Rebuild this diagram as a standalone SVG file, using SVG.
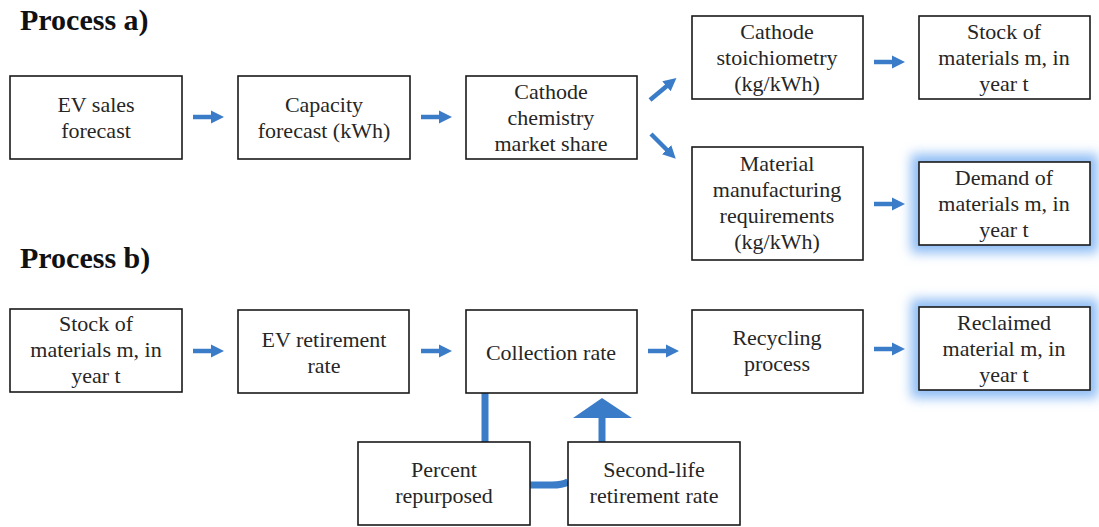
<svg xmlns="http://www.w3.org/2000/svg" width="1099" height="527" viewBox="0 0 1099 527">
  <style>
    .box { fill: #ffffff; stroke: #1a1a1a; stroke-width: 1.6; }
    .lbl { font-family: "Liberation Serif", "Times New Roman", serif; font-size: 22px; fill: #262626; text-anchor: middle; }
    .title { font-family: "Liberation Serif", "Times New Roman", serif; font-size: 30px; font-weight: bold; fill: #111111; }
    .flow { stroke: #3b7cc9; stroke-width: 4.5; fill: none; marker-end: url(#head); }
    .link { stroke: #3b7cc9; stroke-width: 7; fill: none; }
    .glow { fill: #8dbcf4; stroke: #8dbcf4; stroke-width: 16; filter: url(#blur); }
  </style>
  <defs>
    <marker id="head" markerUnits="userSpaceOnUse" markerWidth="14" markerHeight="14" viewBox="0 0 14 14" refX="2" refY="7" orient="auto">
      <path d="M0,0.5 L13,7 L0,13.5 Z" fill="#3b7cc9"/>
    </marker>
    <filter id="blur" x="-30%" y="-40%" width="160%" height="180%">
      <feGaussianBlur stdDeviation="6"/>
    </filter>
  </defs>

  <rect width="1099" height="527" fill="#ffffff"/>

  <text class="title" x="20" y="30">Process a)</text>
  <text class="title" x="20" y="268">Process b)</text>

  <!-- connectors -->
  <g id="connectors">
    <line class="flow" x1="193" y1="117" x2="213" y2="117"/>
    <line class="flow" x1="421" y1="117" x2="441" y2="117"/>
    <line class="flow" x1="650" y1="100" x2="668" y2="85"/>
    <line class="flow" x1="651" y1="134" x2="668" y2="151"/>
    <line class="flow" x1="874" y1="62" x2="894" y2="62"/>
    <line class="flow" x1="874" y1="204" x2="894" y2="204"/>
    <line class="flow" x1="193" y1="351" x2="213" y2="351"/>
    <line class="flow" x1="421" y1="351" x2="441" y2="351"/>
    <line class="flow" x1="648" y1="351" x2="668" y2="351"/>
    <line class="flow" x1="874" y1="349" x2="894" y2="349"/>
    <!-- repurposing loop under the collection step -->
    <line class="link" x1="485" y1="393" x2="485" y2="443"/>
    <path class="link" d="M530,485 L552,485 Q562,485 568,482"/>
    <line class="link" x1="602" y1="443" x2="602" y2="416"/>
    <polygon points="573,418 632,418 602,398" fill="#3b7cc9"/>
  </g>

  <g id="ev-sales">
    <rect class="box" x="10" y="76" width="172" height="83"/>
    <text class="lbl" x="96" y="112">EV sales</text>
    <text class="lbl" x="96" y="138">forecast</text>
  </g>
  <g id="capacity">
    <rect class="box" x="238" y="76" width="172" height="83"/>
    <text class="lbl" x="324" y="112">Capacity</text>
    <text class="lbl" x="324" y="138">forecast (kWh)</text>
  </g>
  <g id="chemistry-share">
    <rect class="box" x="466" y="76" width="171" height="83"/>
    <text class="lbl" x="551" y="99">Cathode</text>
    <text class="lbl" x="551" y="125">chemistry</text>
    <text class="lbl" x="551" y="151">market share</text>
  </g>
  <g id="stoichiometry">
    <rect class="box" x="692" y="16" width="171" height="83"/>
    <text class="lbl" x="777" y="39">Cathode</text>
    <text class="lbl" x="777" y="65">stoichiometry</text>
    <text class="lbl" x="777" y="91">(kg/kWh)</text>
  </g>
  <g id="stock-a">
    <rect class="box" x="919" y="16" width="171" height="83"/>
    <text class="lbl" x="1004" y="39">Stock of</text>
    <text class="lbl" x="1004" y="65">materials m, in</text>
    <text class="lbl" x="1004" y="91">year t</text>
  </g>
  <g id="manufacturing">
    <rect class="box" x="692" y="147" width="171" height="113"/>
    <text class="lbl" x="777" y="171">Material</text>
    <text class="lbl" x="777" y="197">manufacturing</text>
    <text class="lbl" x="777" y="223">requirements</text>
    <text class="lbl" x="777" y="249">(kg/kWh)</text>
  </g>
  <g id="demand">
    <rect class="glow" x="919" y="162" width="171" height="83"/>
    <rect class="box" x="919" y="162" width="171" height="83"/>
    <text class="lbl" x="1004" y="185">Demand of</text>
    <text class="lbl" x="1004" y="211">materials m, in</text>
    <text class="lbl" x="1004" y="237">year t</text>
  </g>

  <g id="stock-b">
    <rect class="box" x="10" y="309" width="172" height="83"/>
    <text class="lbl" x="96" y="331">Stock of</text>
    <text class="lbl" x="96" y="357">materials m, in</text>
    <text class="lbl" x="96" y="383">year t</text>
  </g>
  <g id="retirement">
    <rect class="box" x="238" y="310" width="171" height="83"/>
    <text class="lbl" x="324" y="347">EV retirement</text>
    <text class="lbl" x="324" y="373">rate</text>
  </g>
  <g id="collection">
    <rect class="box" x="466" y="310" width="171" height="83"/>
    <text class="lbl" x="551" y="360">Collection rate</text>
  </g>
  <g id="recycling">
    <rect class="box" x="692" y="310" width="171" height="83"/>
    <text class="lbl" x="777" y="345">Recycling</text>
    <text class="lbl" x="777" y="371">process</text>
  </g>
  <g id="reclaimed">
    <rect class="glow" x="919" y="307" width="171" height="83"/>
    <rect class="box" x="919" y="307" width="171" height="83"/>
    <text class="lbl" x="1004" y="330">Reclaimed</text>
    <text class="lbl" x="1004" y="356">material m, in</text>
    <text class="lbl" x="1004" y="382">year t</text>
  </g>
  <g id="repurposed">
    <rect class="box" x="358" y="442" width="172" height="83"/>
    <text class="lbl" x="444" y="477">Percent</text>
    <text class="lbl" x="444" y="503">repurposed</text>
  </g>
  <g id="second-life">
    <rect class="box" x="568" y="442" width="172" height="83"/>
    <text class="lbl" x="654" y="477">Second-life</text>
    <text class="lbl" x="654" y="503">retirement rate</text>
  </g>
</svg>
